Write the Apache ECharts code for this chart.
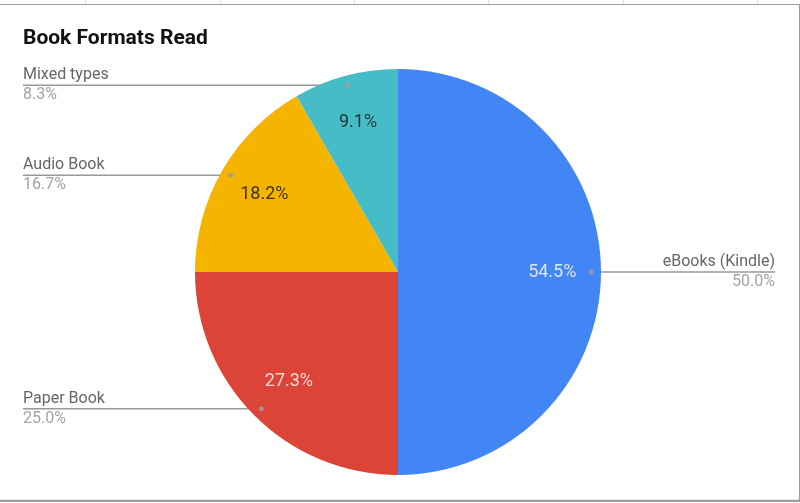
<!DOCTYPE html>
<html>
<head>
<meta charset="utf-8">
<script src="https://cdn.jsdelivr.net/npm/echarts@6/dist/echarts.min.js"></script>
<style>
  html, body { margin: 0; padding: 0; background: #ffffff; }
  #chart { width: 800px; height: 503px; }
</style>
</head>
<body>
<div id="chart"></div>
<script>
// ---- data ----
const CATEGORIES = ['eBooks (Kindle)', 'Paper Book', 'Audio Book', 'Mixed types'];
const VALUES = [6, 3, 2, 1];
const INSIDE_LABELS = ['54.5%', '27.3%', '18.2%', '9.1%'];
const TITLE = 'Book Formats Read';

// ---- style / layout ----
const COLORS = ['#4285F4', '#DB4437', '#F4B400', '#46BDC6'];
const INSIDE_TEXT_COLORS = ['#ffffff', '#ffffff', '#111111', '#111111'];
const CX = 398, CY = 272, R = 203;
const DOT_R = 0.952;       // fraction of radius for the label dots
const INNER_R = 0.76;      // fraction of radius for inside labels
const EDGE_L = 23, EDGE_R = 775;
const FONT = 'Roboto, "Noto Sans", sans-serif';

const total = VALUES.reduce((a, b) => a + b, 0);
const mids = [];
(function () {
  let c = 0;
  VALUES.forEach(v => { mids.push(c + v / 2); c += v; });
})();

const chart = echarts.init(document.getElementById('chart'), null, { renderer: 'canvas' });

const pieData = CATEGORIES.map((name, i) => ({
  name: name,
  value: VALUES[i],
  itemStyle: { color: COLORS[i] }
}));

const dotData = mids.map(m => [DOT_R, m]);
const innerData = mids.map((m, i) => ({
  value: [INNER_R, m],
  label: { color: INSIDE_TEXT_COLORS[i], formatter: INSIDE_LABELS[i] }
}));

const frameColor = '#9e9e9e';
const gridXs = [85, 220, 354, 488, 623, 757];
const graphics = [];
gridXs.forEach(x => {
  graphics.push({ type: 'line', silent: true, z: -1,
    shape: { x1: x + 0.5, y1: 0, x2: x + 0.5, y2: 4 },
    style: { stroke: '#e0e0e0', lineWidth: 1 } });
});
graphics.push({ type: 'line', silent: true, shape: { x1: 0, y1: 4.5, x2: 800, y2: 4.5 }, style: { stroke: frameColor, lineWidth: 1 } });
graphics.push({ type: 'line', silent: true, shape: { x1: 799.5, y1: 4, x2: 799.5, y2: 502 }, style: { stroke: frameColor, lineWidth: 1 } });
graphics.push({ type: 'line', silent: true, shape: { x1: 0, y1: 500.8, x2: 800, y2: 500.8 }, style: { stroke: frameColor, lineWidth: 2.2 } });

chart.setOption({
  animation: false,
  backgroundColor: '#ffffff',
  title: {
    text: TITLE,
    left: 23,
    top: 28,
    padding: 0,
    textStyle: { fontFamily: FONT, fontSize: 21, fontWeight: 'bold', color: '#111111' }
  },
  graphic: graphics,
  polar: { center: [CX, CY], radius: R },
  angleAxis: { type: 'value', min: 0, max: total, startAngle: 90, clockwise: true, show: false },
  radiusAxis: { type: 'value', min: 0, max: 1, show: false },
  series: [
    {
      type: 'pie',
      center: [CX, CY],
      radius: R,
      startAngle: 90,
      clockwise: true,
      avoidLabelOverlap: false,
      silent: true,
      emphasis: { disabled: true },
      itemStyle: { borderWidth: 0 },
      data: pieData,
      label: {
        show: true,
        position: 'outside',
        fontFamily: FONT,
        formatter: function (p) {
          return '{n|' + p.name + '}\n{p|' + p.percent.toFixed(1) + '%}';
        },
        rich: {
          n: { fontFamily: FONT, fontSize: 16, color: '#666666', lineHeight: 20 },
          p: { fontFamily: FONT, fontSize: 16, color: '#a3a3a3', lineHeight: 20 }
        }
      },
      labelLine: {
        show: true,
        length: 10,
        length2: 10,
        lineStyle: { color: '#999999', width: 1.5 }
      },
      labelLayout: function (params) {
        const i = params.dataIndex;
        const theta = mids[i] / total * Math.PI * 2;
        const sx = CX + R * DOT_R * Math.sin(theta);
        const sy = CY - R * DOT_R * Math.cos(theta);
        const left = sx < CX;
        const ex = left ? EDGE_L : EDGE_R;
        return {
          x: ex,
          y: sy,
          align: left ? 'left' : 'right',
          verticalAlign: 'middle',
          labelLinePoints: [[sx, sy], [(sx + ex) / 2, sy], [ex, sy]]
        };
      }
    },
    {
      type: 'scatter',
      coordinateSystem: 'polar',
      silent: true,
      z: 4,
      symbol: 'circle',
      symbolSize: 5,
      itemStyle: { color: '#9e9e9e' },
      data: dotData
    },
    {
      type: 'scatter',
      coordinateSystem: 'polar',
      silent: true,
      z: 5,
      symbolSize: 1,
      itemStyle: { color: 'rgba(0,0,0,0)' },
      label: {
        show: true,
        position: 'inside',
        fontFamily: FONT,
        fontSize: 18
      },
      data: innerData
    }
  ]
});
</script>
</body>
</html>
